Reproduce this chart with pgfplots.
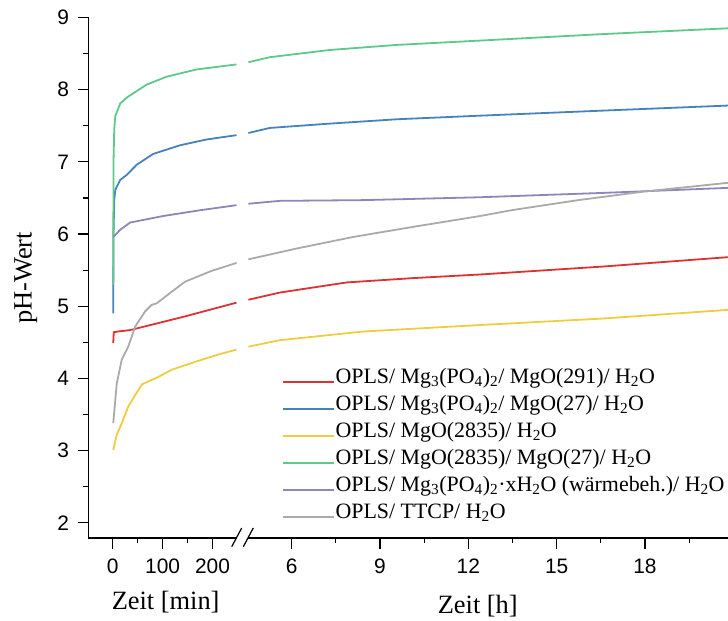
\documentclass[border=0pt]{standalone}
\usepackage{fontspec}
\setmainfont{Liberation Serif}
\newfontfamily\arial{Liberation Sans}
\usepackage{pgfplots}
\pgfplotsset{compat=1.18}
\definecolor{cred}{RGB}{220,50,50}
\definecolor{cblue}{RGB}{70,130,190}
\definecolor{cyellow}{RGB}{240,204,64}
\definecolor{cgreen}{RGB}{95,200,140}
\definecolor{cpurple}{RGB}{140,135,185}
\definecolor{cgray}{RGB}{170,170,170}
\pgfplotsset{common/.style={
  scale only axis, height=520.5bp, ymin=1.79, ymax=9,
  tick align=outside, major tick length=10.7bp, minor tick length=5.5bp,
  every tick/.style={black, line width=1.2bp},
  axis line style={line width=1.3bp, -},
  ticklabel style={font=\arial\fontsize{21}{21}\selectfont},
  xticklabel style={yshift=-7bp},
  yticklabel style={xshift=-5bp},
  /pgf/number format/assume math mode=true,
  label style={font=\fontsize{26.5}{30}\selectfont},
  every axis plot/.append style={line width=1.8bp},
}}
\begin{document}
\begin{tikzpicture}[x=1bp,y=1bp]
\path[use as bounding box] (0,0) rectangle (728,621);
\begin{axis}[common, at={(88.3bp,83bp)}, anchor=south west, width=148.7bp,
  xmin=-49, xmax=249, axis x line*=bottom, axis y line*=left,
  xtick={0,100,200}, minor xtick={50,150},
  ytick={2,3,4,5,6,7,8,9}, minor ytick={2.5,3.5,4.5,5.5,6.5,7.5,8.5},
  xlabel={Zeit [min]}, ylabel={pH-Wert},
  xlabel style={yshift=-10bp, xshift=3bp},
  ylabel style={at={(rel axis cs:-0.42,0.5)}, anchor=center, rotate=0}]
\addplot[cred] coordinates {(1,4.49) (2,4.64) (10,4.65) (35,4.67) (145,4.86) (248,5.05)};
\addplot[cblue] coordinates {(1,4.9) (1.5,6.0) (3,6.47) (5,6.61) (15,6.75) (28,6.82) (48,6.96) (81,7.11) (135,7.23) (188,7.31) (248,7.37)};
\addplot[cyellow] coordinates {(1,3.01) (8,3.22) (18,3.38) (31,3.61) (45,3.77) (59,3.92) (91,4.02) (118,4.12) (165,4.23) (211,4.33) (248,4.40)};
\addplot[cgreen] coordinates {(1,5.3) (1.5,7.0) (3,7.45) (5,7.63) (15,7.81) (30,7.90) (50,7.99) (68,8.07) (108,8.18) (168,8.28) (248,8.35)};
\addplot[cpurple] coordinates {(1,5.96) (15,6.06) (35,6.16) (101,6.25) (175,6.33) (248,6.40)};
\addplot[cgray] coordinates {(1,3.38) (8,3.93) (18,4.26) (24.6,4.35) (31,4.44) (45,4.72) (65,4.93) (78,5.02) (88,5.04) (118,5.20) (145,5.34) (198,5.49) (248,5.60)};
\end{axis}
\begin{axis}[common, at={(247.5bp,83bp)}, anchor=south west, width=480.5bp,
  xmin=4.5, xmax=20.82, axis x line*=bottom, axis y line=none,
  xtick={6,9,12,15,18}, minor xtick={7.5,10.5,13.5,16.5,19.5},
  xlabel={Zeit [h]}, xlabel style={yshift=-14bp, xshift=-10bp},
  legend cell align=left,
  legend image code/.code={\draw[#1, line width=2.2bp] (0bp,0bp) -- (51.6bp,0bp);},
  legend style={at={(rel axis cs:0.0712,0.3251)}, anchor=north west, draw=none, fill=none,
    inner sep=0pt, outer sep=0pt, font=\fontsize{22}{26}\selectfont, row sep=0pt,
    nodes={inner sep=0pt, text height=15bp, text depth=12bp},
    /tikz/every even column/.append style={column sep=5.5bp}}]
\addplot[cred] coordinates {(4.53,5.09) (5.6,5.19) (7.87,5.33) (10.13,5.39) (12.4,5.44) (16.57,5.55) (20.82,5.68)};
\addlegendentry{OPLS/ Mg\textsubscript{3}(PO\textsubscript{4})\textsubscript{2}/ MgO(291)/ H\textsubscript{2}O}
\addplot[cblue] coordinates {(4.53,7.40) (5.26,7.47) (7.3,7.53) (9.57,7.59) (12.4,7.64) (16.57,7.71) (20.82,7.78)};
\addlegendentry{OPLS/ Mg\textsubscript{3}(PO\textsubscript{4})\textsubscript{2}/ MgO(27)/ H\textsubscript{2}O}
\addplot[cyellow] coordinates {(4.53,4.44) (5.6,4.53) (8.43,4.65) (12.4,4.74) (16.57,4.83) (20.82,4.95)};
\addlegendentry{OPLS/ MgO(2835)/ H\textsubscript{2}O}
\addplot[cgreen] coordinates {(4.53,8.38) (5.26,8.45) (7.3,8.55) (9.57,8.62) (12.4,8.68) (16.57,8.77) (20.82,8.85)};
\addlegendentry{OPLS/ MgO(2835)/ MgO(27)/ H\textsubscript{2}O}
\addplot[cpurple] coordinates {(4.53,6.42) (5.6,6.46) (8.43,6.47) (12.4,6.51) (16.57,6.57) (20.82,6.64)};
\addlegendentry{OPLS/ Mg\textsubscript{3}(PO\textsubscript{4})\textsubscript{2}·xH\textsubscript{2}O (wärmebeh.)/ H\textsubscript{2}O}
\addplot[cgray] coordinates {(4.53,5.65) (6.17,5.80) (8.09,5.96) (10.13,6.10) (12.4,6.25) (13.46,6.33) (15.73,6.47) (17.99,6.59) (20.82,6.71)};
\addlegendentry{OPLS/ TTCP/ H\textsubscript{2}O}
\end{axis}
\draw[line width=1.2bp] (231.7,74.3) -- (241.7,93);
\draw[line width=1.2bp] (243.3,74.3) -- (253.3,93);
\end{tikzpicture}
\end{document}
